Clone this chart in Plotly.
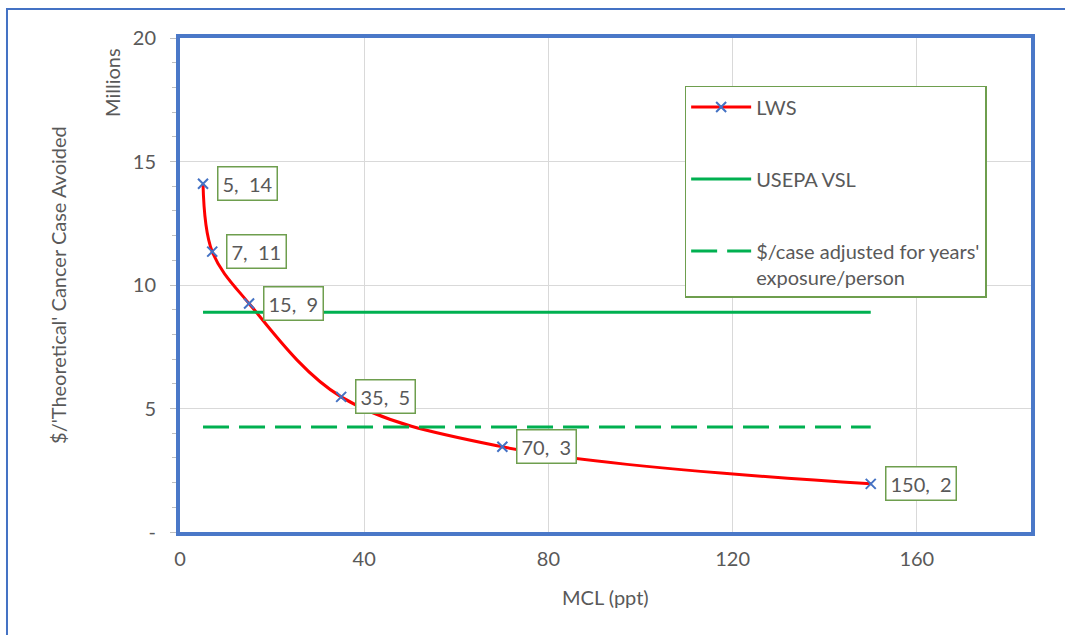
import plotly.graph_objects as go

# MCL levels (ppt) and cost per theoretical cancer case avoided ($ millions)
mcl = [5, 7, 15, 35, 70, 150]
lws_cost = [14.1, 11.35, 9.25, 5.47, 3.45, 1.95]

# Reference lines ($ millions) spanning the MCL range
vsl_x = [5, 150]
vsl_value = [8.9, 8.9]
adj_x = [5, 150]
adj_value = [4.25, 4.25]

# Axis ticks
y_tickvals = [0, 5, 10, 15, 20]
y_ticktext = ["-", "5", "10", "15", "20"]
x_tickvals = [0, 40, 80, 120, 160]

series_names = ["LWS", "USEPA VSL", "$/case adjusted for years'<br>exposure/person"]

FONT = "Lato, 'Open Sans', sans-serif"
GREY = "#595959"
BLUE = "#4A78C8"
GREEN = "#00B050"
BOX_GREEN = "#6E9E4E"
FS = 20

fig = go.Figure()

fig.add_trace(go.Scatter(
    x=mcl, y=lws_cost, mode="lines+markers", name=series_names[0],
    legendgroup="a",
    line=dict(color="#FF0000", width=3, shape="spline", smoothing=1),
    marker=dict(symbol="x-thin", size=10, color="#4472C4",
                line=dict(color="#4472C4", width=2)),
))
fig.add_trace(go.Scatter(
    x=vsl_x, y=vsl_value, mode="lines", name=series_names[1],
    legendgroup="b",
    line=dict(color=GREEN, width=3),
))
fig.add_trace(go.Scatter(
    x=adj_x, y=adj_value, mode="lines", name=series_names[2],
    legendgroup="c",
    line=dict(color=GREEN, width=3, dash="26px,10px"),
))

# Data labels "x, y" beside each LWS point
for xv, yv in zip(mcl, lws_cost):
    fig.add_annotation(
        x=xv, y=yv, xref="x", yref="y",
        text=f"{xv},  {yv:.0f}", showarrow=False,
        xanchor="left", yanchor="middle", xshift=14,
        font=dict(family=FONT, size=FS, color=GREY),
        bgcolor="white", bordercolor=BOX_GREEN, borderwidth=1.5, borderpad=4,
    )

# Axis titles and unit label
fig.add_annotation(
    x=0.5, y=-0.1316, xref="paper", yref="paper", text="MCL (ppt)",
    showarrow=False, xanchor="center", yanchor="middle",
    font=dict(family=FONT, size=FS, color=GREY),
)
fig.add_annotation(
    x=-0.1434, y=0.5, xref="paper", yref="paper",
    text="$/'Theoretical' Cancer Case Avoided", textangle=-90,
    showarrow=False, xanchor="center", yanchor="middle",
    font=dict(family=FONT, size=FS, color=GREY),
)
fig.add_annotation(
    x=-0.0799, y=0.909, xref="paper", yref="paper", text="Millions",
    textangle=-90, showarrow=False, xanchor="center", yanchor="middle",
    font=dict(family=FONT, size=FS, color=GREY),
)

# Outer chart border
fig.add_shape(
    type="rect", xref="paper", yref="paper",
    x0=-0.2033, x1=1.05, y0=-0.23, y1=1.0587,
    line=dict(color="#4472C4", width=2), layer="below",
)

fig.update_layout(
    width=1065, height=635,
    margin=dict(l=180, r=34, t=38, b=103),
    paper_bgcolor="white", plot_bgcolor="white",
    font=dict(family=FONT, size=FS, color=GREY),
    showlegend=True,
    legend=dict(
        x=0.593, y=0.903, xanchor="left", yanchor="top",
        bgcolor="white", bordercolor=BOX_GREEN, borderwidth=1.5,
        font=dict(family=FONT, size=FS, color=GREY),
        itemwidth=60, tracegroupgap=43, traceorder="grouped",
        valign="top",
    ),
    xaxis=dict(
        range=[0, 184.8], tickvals=x_tickvals, ticks="",
        showgrid=True, gridcolor="#D9D9D9", gridwidth=1,
        showline=True, linecolor=BLUE, linewidth=4, mirror=True,
        zeroline=False, ticklabelstandoff=6,
        tickfont=dict(family=FONT, size=FS, color=GREY),
    ),
    yaxis=dict(
        range=[0, 20], tickvals=y_tickvals, ticktext=y_ticktext,
        ticks="outside", ticklen=6, tickcolor="#BFBFBF", tickwidth=1,
        minor=dict(dtick=1, ticks="outside", ticklen=4, tickcolor="#BFBFBF",
                   showgrid=False),
        showgrid=True, gridcolor="#D9D9D9", gridwidth=1,
        showline=True, linecolor=BLUE, linewidth=4, mirror=True,
        zeroline=False, ticklabelstandoff=10,
        tickfont=dict(family=FONT, size=FS, color=GREY),
    ),
)

fig.write_html("out.html")
